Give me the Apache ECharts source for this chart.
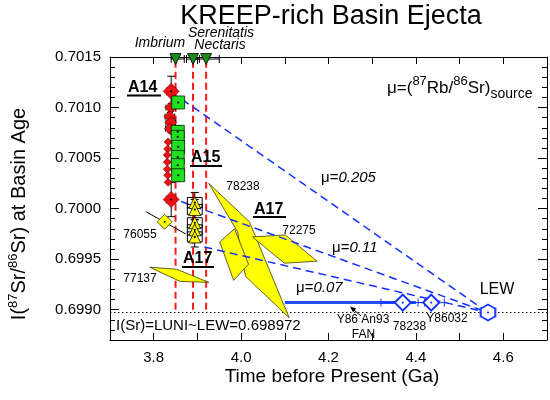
<!DOCTYPE html>
<html>
<head>
<meta charset="utf-8">
<script src="https://cdn.jsdelivr.net/npm/echarts@6/dist/echarts.min.js"></script>
<style>html,body{margin:0;padding:0;background:#fff}#chart{width:550px;height:400px}</style>
</head>
<body>
<div id="chart"></div>
<script>
const FONT = '"Liberation Sans", Arial, sans-serif';

// axes
const ageMin = 3.7, ageMax = 4.7, ageStep = 0.1;
const srMin = 0.6987, srMax = 0.7015, srMinorStep = 0.0001;
const srTicks = [0.6990, 0.6995, 0.7000, 0.7005, 0.7010, 0.7015];

// basin ages (green triangles + red dashed lines)
const basinNames = ['Imbrium', 'Serenitatis', 'Nectaris'];
const basinAge = [3.85, 3.89, 3.92];
const basinAgeLo = [3.84, 3.875, 3.89];
const basinAgeHi = [3.87, 3.905, 3.95];
const basinMarkerSr = 0.70148;
const basinLineSr = [0.6990, 0.7015];

// Apollo 14 (red diamonds)
const a14BigAge = [3.840, 3.840];
const a14BigSr = [0.70116, 0.70009];
const a14BigErr = [0.00015, 0.00017];
const a14MidAge = [3.839, 3.837, 3.839, 3.838];
const a14MidSr = [0.70100, 0.70091, 0.70085, 0.70079];
const a14SmallAge = [3.833, 3.832, 3.831, 3.831, 3.831, 3.832, 3.833];
const a14SmallSr = [0.70066, 0.70059, 0.70053, 0.70046, 0.70039, 0.70033, 0.70026];

// Apollo 15 (green squares)
const a15Age = [3.856, 3.855, 3.855, 3.856, 3.855, 3.855, 3.856];
const a15Sr = [0.70105, 0.70076, 0.70071, 0.70061, 0.70051, 0.70043, 0.70033];

// Apollo 17 (yellow triangles)
const a17Age = [3.894, 3.894, 3.894, 3.894, 3.894];
const a17Sr = [0.70006, 0.69999, 0.69986, 0.69979, 0.69972];

// 76055
const s76055Age = [3.825];
const s76055Sr = [0.69987];
const s76055Line = [[3.782, 0.69997], [3.873, 0.69975]];

// error polygons
const poly77137 = [[3.791, 0.69942], [3.853, 0.69940], [3.926, 0.69927], [3.860, 0.69928]];
const poly78238a = [[3.926, 0.70025], [4.019, 0.69987], [4.110, 0.69892], [4.010, 0.69933], [3.992, 0.69977]];
const poly78238b = [[3.951, 0.69967], [3.985, 0.69980], [4.017, 0.69945], [3.983, 0.69929]];
const poly72275 = [[4.026, 0.69972], [4.101, 0.69974], [4.174, 0.69948], [4.099, 0.69946]];

// LEW and ancient samples
const lewAge = 4.565, lewSr = 0.698972, lewAgeErr = 0.018;
const ancientNames = ['78238', 'Y86032'];
const ancientAge = [4.37, 4.435];
const ancientSr = [0.69907, 0.69907];
const ancientAgeErr = [0.05, 0.03];
const fanAge = [4.10, 4.40];
const fanSr = 0.69907;

// mu evolution lines, all ending at LEW
const muLabels = ['0.205', '0.11', '0.07'];
const muStartAge = [3.865, 3.863, 3.916];
const muStartSr = [0.70108, 0.70007, 0.69962];

const zip = (a, b) => a.map((v, i) => [v, Array.isArray(b) ? b[i] : b]);

// 多边形 (误差范围)
function polySeries(pts) {
    return {
        type: 'custom', data: pts, clip: false, silent: true, z: 3,
        renderItem: function (params, api) {
            if (params.dataIndex !== 0) return null;
            return {
                type: 'polygon',
                shape: { points: pts.map(p => api.coord(p)) },
                style: { fill: '#ffff00', stroke: '#3a3a10', lineWidth: 0.8 }
            };
        }
    };
}

// error bars: [x, y, dx, dy]
function errSeries(items, color, cap, z) {
    return {
        type: 'custom', data: items, clip: false, silent: true, z: z || 4,
        renderItem: function (params, api) {
            const x = api.value(0), y = api.value(1), dx = api.value(2), dy = api.value(3);
            const st = { stroke: color, lineWidth: 1 };
            const kids = [];
            const seg = (x1, y1, x2, y2) => kids.push({ type: 'line', shape: { x1, y1, x2, y2 }, style: st });
            if (dx > 0) {
                const a = api.coord([x - dx, y]), b = api.coord([x + dx, y]);
                seg(a[0], a[1], b[0], b[1]);
                seg(a[0], a[1] - cap, a[0], a[1] + cap);
                seg(b[0], b[1] - cap, b[0], b[1] + cap);
            }
            if (dy > 0) {
                const a = api.coord([x, y - dy]), b = api.coord([x, y + dy]);
                seg(a[0], a[1], b[0], b[1]);
                seg(a[0] - cap, a[1], a[0] + cap, a[1]);
                seg(b[0] - cap, b[1], b[0] + cap, b[1]);
            }
            return { type: 'group', children: kids };
        }
    };
}

function boxSeries(items) {
    return {
        type: 'custom', data: items, clip: false, silent: true, z: 4,
        renderItem: function (params, api) {
            const x = api.value(0), y = api.value(1), dx = api.value(2), dy = api.value(3);
            const a = api.coord([x - dx, y + dy]), b = api.coord([x + dx, y - dy]);
            return {
                type: 'rect',
                shape: { x: a[0], y: a[1], width: b[0] - a[0], height: b[1] - a[1] },
                style: { fill: 'none', stroke: '#000', lineWidth: 1 }
            };
        }
    };
}

function lineSeries(data, color, width, type, z) {
    return {
        type: 'line', data: data, symbol: 'none', silent: true, z: z || 2,
        lineStyle: { color: color, width: width, type: type }
    };
}

function scatter(data, symbol, size, fill, border, bw, z, rot) {
    return {
        type: 'scatter', data: data, symbol: symbol, symbolSize: size, symbolRotate: rot || 0,
        clip: false, silent: true, z: z || 5,
        itemStyle: { color: fill, borderColor: border, borderWidth: bw, opacity: 1 }
    };
}

const series = [];
basinAge.forEach(a => series.push(lineSeries([[a, basinLineSr[0]], [a, basinLineSr[1]]], '#ff1a1a', 2, [7, 4], 1)));
series.push(lineSeries([[ageMin, lewSr], [ageMax, lewSr]], '#000', 1, [1.5, 2.5], 2));
series.push(polySeries(poly77137), polySeries(poly78238a), polySeries(poly78238b), polySeries(poly72275));
muStartAge.forEach((a, i) => series.push(lineSeries([[a, muStartSr[i]], [lewAge, lewSr]], '#1030ff', 1.5, [8, 5], 3)));
series.push(lineSeries(zip(fanAge, fanSr), '#1f4dff', 3, 'solid', 3));
series.push(lineSeries(s76055Line, '#000', 1, 'solid', 3));

series.push(errSeries(basinAge.map((a, i) => [(basinAgeLo[i] + basinAgeHi[i]) / 2, basinMarkerSr, (basinAgeHi[i] - basinAgeLo[i]) / 2, 0]), '#000', 4));
series.push(errSeries(a14BigAge.map((a, i) => [a, a14BigSr[i], 0.010, a14BigErr[i]]), '#000', 4));
series.push(errSeries(a14MidAge.map((a, i) => [a, a14MidSr[i], 0.011, 0.00004]), '#000', 3));
series.push(errSeries(a15Age.map((a, i) => [a, a15Sr[i], 0.013, 0.00006]), '#000', 3, 6));
series.push(boxSeries(a17Age.map((a, i) => [a, a17Sr[i], 0.017, 0.00005])));
series.push(errSeries(a17Age.map((a, i) => [a, a17Sr[i], 0, 0.0001]), '#000', 4));
series.push(errSeries(ancientAge.map((a, i) => [a, ancientSr[i], ancientAgeErr[i], 0]), '#1030ff', 4));
series.push(errSeries([[lewAge, lewSr, lewAgeErr, 0]], '#1030ff', 5));

series.push(scatter(zip(basinAge, basinMarkerSr), 'triangle', 11, '#1a8c1a', '#000', 0.8, 6, 180));
series.push(scatter(zip(a14SmallAge, a14SmallSr), 'diamond', 8, '#ee1111', '#6a0000', 0.6, 5));
series.push(scatter(zip(a14MidAge, a14MidSr), 'diamond', 12, '#ee1111', '#6a0000', 0.6, 5));
series.push(scatter(zip(a14BigAge, a14BigSr), 'diamond', 16, '#ee1111', '#6a0000', 0.6, 5));
series.push(scatter(zip(a15Age, a15Sr), 'rect', 13, '#1ee01e', '#000', 0.7, 6));
series.push(scatter(zip(a17Age, a17Sr), 'triangle', 12, '#ffff00', '#000', 0.8, 6));
series.push(scatter(zip(s76055Age, s76055Sr), 'diamond', 15, '#ffff00', '#333', 0.8, 6));
series.push(scatter(zip(ancientAge, ancientSr), 'diamond', 16, '#fff', '#1030ff', 2, 6));
series.push(scatter([[lewAge, lewSr]], 'path://M0,-10L8.66,-5L8.66,5L0,10L-8.66,5L-8.66,-5Z', [14, 16], '#fff', '#1030ff', 1.5, 6));
// center dots
series.push(scatter(zip(a14BigAge, a14BigSr).concat(zip(a15Age, a15Sr), zip(a17Age, a17Sr), zip(s76055Age, s76055Sr)), 'circle', 2.2, '#000', '#000', 0, 7));
series.push(scatter(zip(ancientAge, ancientSr).concat([[lewAge, lewSr]]), 'circle', 2.2, '#1030ff', '#1030ff', 0, 7));

// graphic text helpers
function txt(x, y, text, size, extra) {
    return {
        type: 'text', x: x, y: y, silent: true, z: 20,
        style: Object.assign({
            text: text, fontSize: size, fontFamily: FONT, fill: '#000',
            textAlign: 'center', textVerticalAlign: 'middle', align: 'center', verticalAlign: 'middle'
        }, extra || {})
    };
}
function uline(x1, x2, y) {
    return { type: 'line', silent: true, z: 20, shape: { x1: x1, y1: y, x2: x2, y2: y }, style: { stroke: '#000', lineWidth: 2 } };
}
const leftAl = { textAlign: 'left', align: 'left' };
const muRich = {
    m: { fontSize: 15, fontFamily: FONT, fill: '#000' },
    i: { fontSize: 15, fontFamily: FONT, fontStyle: 'italic', fill: '#000' }
};
const boldA = Object.assign({ fontWeight: 'bold' }, leftAl);

const basinLabelPos = [[160, 43], [221, 33], [220, 45]];
const muLabelPos = [[321, 178], [332, 248], [296, 287.5]];

const graphic = [
    txt(331, 17, 'KREEP-rich Basin Ejecta', 27),
    txt(332, 377, 'Time before Present (Ga)', 19),
    {
        type: 'text', x: 19, y: 214, rotation: Math.PI / 2, silent: true, z: 20,
        style: {
            text: '{a|I(}{s|87}{a|Sr/}{s|86}{a|Sr) at Basin Age}',
            textAlign: 'center', textVerticalAlign: 'middle', align: 'center', verticalAlign: 'middle',
            rich: {
                a: { fontSize: 20, fontFamily: FONT, lineHeight: 24, fill: '#000' },
                s: { fontSize: 13, fontFamily: FONT, lineHeight: 13, verticalAlign: 'top', fill: '#000' }
            }
        }
    },
    {
        type: 'text', x: 387, y: 88, silent: true, z: 20,
        style: {
            text: '{b|μ=(}{s|87}{b|Rb/}{s|86}{b|Sr)}{u|source}',
            textAlign: 'left', textVerticalAlign: 'middle', align: 'left', verticalAlign: 'middle',
            rich: {
                b: { fontSize: 17, fontFamily: FONT, lineHeight: 26, fill: '#000' },
                s: { fontSize: 13, fontFamily: FONT, lineHeight: 13, verticalAlign: 'top', fill: '#000' },
                u: { fontSize: 14, fontFamily: FONT, lineHeight: 14, verticalAlign: 'bottom', fill: '#000' }
            }
        }
    },
    txt(128, 88, 'A14', 16, boldA), uline(127, 161, 95.5),
    txt(191, 158, 'A15', 16, boldA), uline(190, 222, 166),
    txt(254, 209.5, 'A17', 16, boldA), uline(253, 286, 217),
    txt(183, 259, 'A17', 16, boldA), uline(182, 214, 267),
    txt(140, 235, '76055', 12),
    txt(140, 279, '77137', 12),
    txt(243, 187, '78238', 12),
    txt(299, 231, '72275', 12),
    txt(497, 290, 'LEW', 16),
    txt(363, 320, 'Y86 An93', 12),
    txt(363.5, 334.5, 'FAN', 12),
    txt(409.5, 326.5, ancientNames[0], 12),
    txt(447, 318.5, ancientNames[1], 12),
    txt(116, 326, 'I(Sr)=LUNI~LEW=0.698972', 15, leftAl),
    { type: 'line', silent: true, z: 20, shape: { x1: 361, y1: 316, x2: 352, y2: 308.3 }, style: { stroke: '#000', lineWidth: 1 } },
    { type: 'polygon', silent: true, z: 20, shape: { points: [[350, 306.5], [356.2, 308.5], [353.0, 312.3]] }, style: { fill: '#000' } }
];
basinNames.forEach((n, i) => graphic.push(txt(basinLabelPos[i][0], basinLabelPos[i][1], n, 14, { fontStyle: 'italic' })));
muLabels.forEach((m, i) => graphic.push({
    type: 'text', x: muLabelPos[i][0], y: muLabelPos[i][1], silent: true, z: 20,
    style: {
        text: '{m|μ=}{i|' + m + '}', rich: muRich,
        textAlign: 'left', textVerticalAlign: 'middle', align: 'left', verticalAlign: 'middle'
    }
}));

const axisLine = { show: true, lineStyle: { color: '#000', width: 1 } };
const tickStyle = { color: '#000', width: 1 };
const xBase = { type: 'value', min: ageMin, max: ageMax, interval: ageStep, splitLine: { show: false }, axisLine: axisLine };
const yBase = { type: 'value', min: srMin, max: srMax, splitLine: { show: false } };

const option = {
    animation: false,
    backgroundColor: '#fff',
    grid: { left: 110, right: 1, top: 57, bottom: 60 },
    xAxis: [
        Object.assign({}, xBase, {
            position: 'bottom',
            axisTick: { inside: true, length: 7, lineStyle: tickStyle },
            axisLabel: {
                color: '#000', fontSize: 15, fontFamily: FONT, margin: 10,
                formatter: v => (Math.round(v * 10) % 2 === 0 ? v.toFixed(1) : '')
            }
        }),
        Object.assign({}, xBase, {
            position: 'top',
            axisTick: { inside: true, length: 7, lineStyle: tickStyle },
            axisLabel: { show: false }
        })
    ],
    yAxis: [
        Object.assign({}, yBase, {
            position: 'left', axisLine: axisLine,
            axisTick: { inside: true, length: 9, customValues: srTicks, lineStyle: tickStyle },
            axisLabel: { customValues: srTicks, color: '#000', fontSize: 15, fontFamily: FONT, margin: 9, formatter: v => v.toFixed(4) }
        }),
        Object.assign({}, yBase, {
            position: 'left', interval: srMinorStep, axisLine: { show: false },
            axisTick: { inside: true, length: 5, lineStyle: tickStyle }, axisLabel: { show: false }
        }),
        Object.assign({}, yBase, {
            position: 'right', axisLine: axisLine,
            axisTick: { inside: true, length: 9, customValues: srTicks, lineStyle: tickStyle },
            axisLabel: { show: false }
        }),
        Object.assign({}, yBase, {
            position: 'right', interval: srMinorStep, axisLine: { show: false },
            axisTick: { inside: true, length: 5, lineStyle: tickStyle }, axisLabel: { show: false }
        })
    ],
    series: series,
    graphic: graphic
};

const chart = echarts.init(document.getElementById('chart'), null, { renderer: 'canvas' });
chart.setOption(option);
</script>
</body>
</html>
